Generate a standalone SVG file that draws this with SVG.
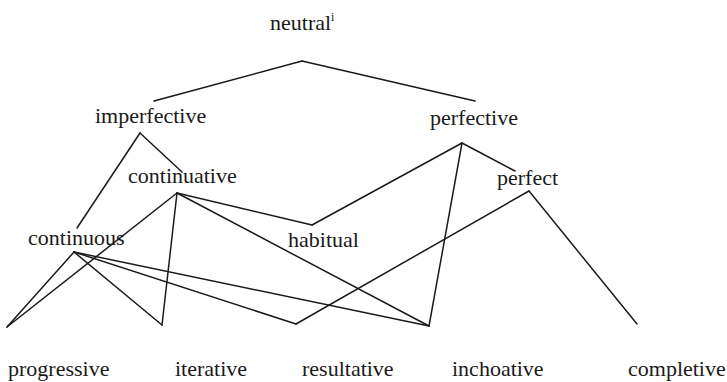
<svg xmlns="http://www.w3.org/2000/svg" width="727" height="382" viewBox="0 0 727 382">
<style>
.t{font-family:"Liberation Serif","Times New Roman",serif;font-size:22px;fill:#1a1a1a}
.sup{font-family:"Liberation Serif","Times New Roman",serif;font-size:12px;fill:#1a1a1a}
.c line{stroke:#1a1a1a;stroke-width:1.5;stroke-linecap:round}
</style>
<rect width="727" height="382" fill="#fff"/>
<g id="connectors" class="c">
<line x1="302" y1="61" x2="154" y2="101"/>
<line x1="302" y1="61" x2="475" y2="101"/>
<line x1="140" y1="133" x2="77" y2="228"/>
<line x1="140" y1="133" x2="182" y2="172"/>
<line x1="462" y1="143" x2="312" y2="225"/>
<line x1="462" y1="143" x2="429" y2="326"/>
<line x1="462" y1="143" x2="515" y2="171"/>
<line x1="177" y1="193" x2="7" y2="327"/>
<line x1="177" y1="193" x2="162" y2="325"/>
<line x1="177" y1="193" x2="312" y2="225"/>
<line x1="177" y1="193" x2="429" y2="326"/>
<line x1="529" y1="191" x2="296" y2="324"/>
<line x1="529" y1="191" x2="637" y2="324"/>
<line x1="74" y1="252" x2="7" y2="327"/>
<line x1="74" y1="252" x2="162" y2="325"/>
<line x1="74" y1="252" x2="296" y2="324"/>
<line x1="74" y1="252" x2="429" y2="326"/>
</g>
<g id="neutral"><text class="t" x="270" y="30">neutral</text><text class="sup" x="331" y="21">i</text></g>
<g id="imperfective"><text class="t" x="95" y="123">imperfective</text></g>
<g id="perfective"><text class="t" x="430" y="125">perfective</text></g>
<g id="continuative"><text class="t" x="128" y="183">continuative</text></g>
<g id="perfect"><text class="t" x="497" y="185">perfect</text></g>
<g id="continuous"><text class="t" x="28" y="245">continuous</text></g>
<g id="habitual"><text class="t" x="288" y="247">habitual</text></g>
<g id="progressive"><text class="t" x="8" y="376">progressive</text></g>
<g id="iterative"><text class="t" x="175" y="376">iterative</text></g>
<g id="resultative"><text class="t" x="302" y="376">resultative</text></g>
<g id="inchoative"><text class="t" x="452" y="376">inchoative</text></g>
<g id="completive"><text class="t" x="628" y="376">completive</text></g>
</svg>
